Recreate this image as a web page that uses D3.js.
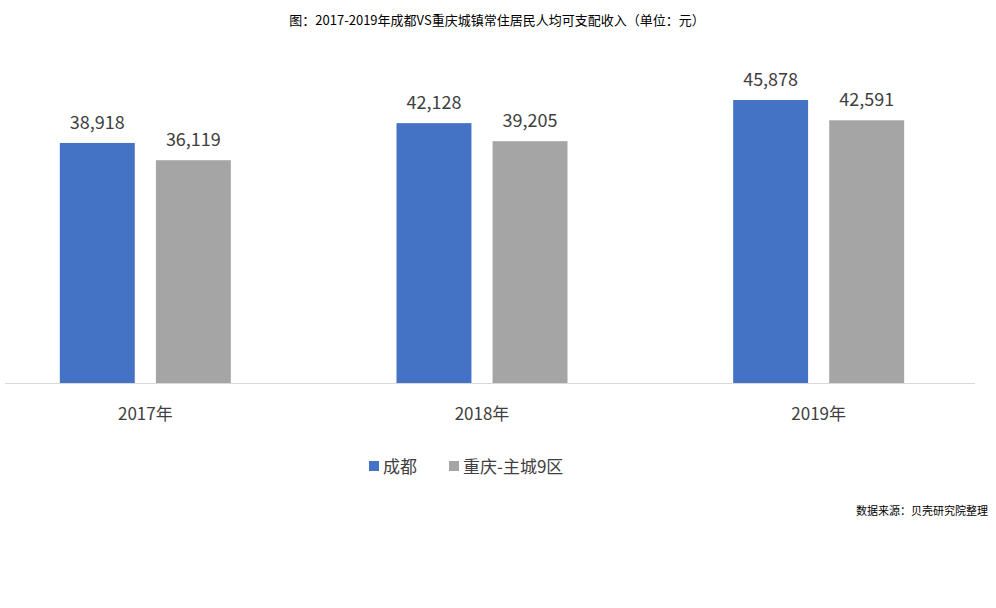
<!DOCTYPE html><html><head><meta charset="utf-8"><script src="https://cdn.jsdelivr.net/npm/d3@7"></script>
<style>body{margin:0;background:#fff}text{font-family:"Noto Sans CJK SC","Noto Sans",sans-serif}</style></head><body><svg width="996" height="608"></svg><script>
const categories=["2017年","2018年","2019年"];
const seriesNames=["成都","重庆-主城9区"];
const chengdu=[38918,42128,45878];
const chongqing=[36119,39205,42591];
const colors=["#4472C4","#A5A5A5"];
const svg=d3.select("svg");
const y=d3.scaleLinear().domain([0,50000]).range([383,74.6]);
const x=d3.scaleBand().domain(categories).range([-23,987]);
const sub=d3.scaleBand().domain(seriesNames).range([x.bandwidth()/2-85.5,x.bandwidth()/2+85.5]).paddingInner(0.22);
const fmt=d3.format(",");
svg.append("text").attr("x",497).attr("y",25).attr("text-anchor","middle").attr("font-size",13).attr("fill","#000").text("图：2017-2019年成都VS重庆城镇常住居民人均可支配收入（单位：元）");
const data=[chengdu,chongqing];
categories.forEach((c,i)=>{
 seriesNames.forEach((s,j)=>{
  const v=data[j][i], bx=x(c)+sub(s);
  svg.append("rect").attr("x",bx).attr("y",y(v)).attr("width",sub.bandwidth()).attr("height",y(0)-y(v)).attr("fill",colors[j]);
  svg.append("text").attr("x",bx+sub.bandwidth()/2).attr("y",y(v)-14).attr("text-anchor","middle").attr("font-size",18).attr("fill","#404040").text(fmt(v));
 });
});
svg.append("line").attr("x1",5).attr("x2",975).attr("y1",383.5).attr("y2",383.5).attr("stroke","#d9d9d9");
svg.append("g").selectAll("text").data(categories).join("text").attr("x",d=>x(d)+x.bandwidth()/2).attr("y",420).attr("text-anchor","middle").attr("font-size",17).attr("fill","#404040").text(d=>d);
const lx=[369,449];
seriesNames.forEach((s,j)=>{
 svg.append("rect").attr("x",lx[j]).attr("y",461).attr("width",10).attr("height",10).attr("fill",colors[j]);
 svg.append("text").attr("x",lx[j]+14).attr("y",473).attr("font-size",17).attr("fill","#404040").text(s);
});
svg.append("text").attr("x",988).attr("y",515).attr("text-anchor","end").attr("font-size",11).attr("fill","#000").text("数据来源：贝壳研究院整理");
</script></body></html>
